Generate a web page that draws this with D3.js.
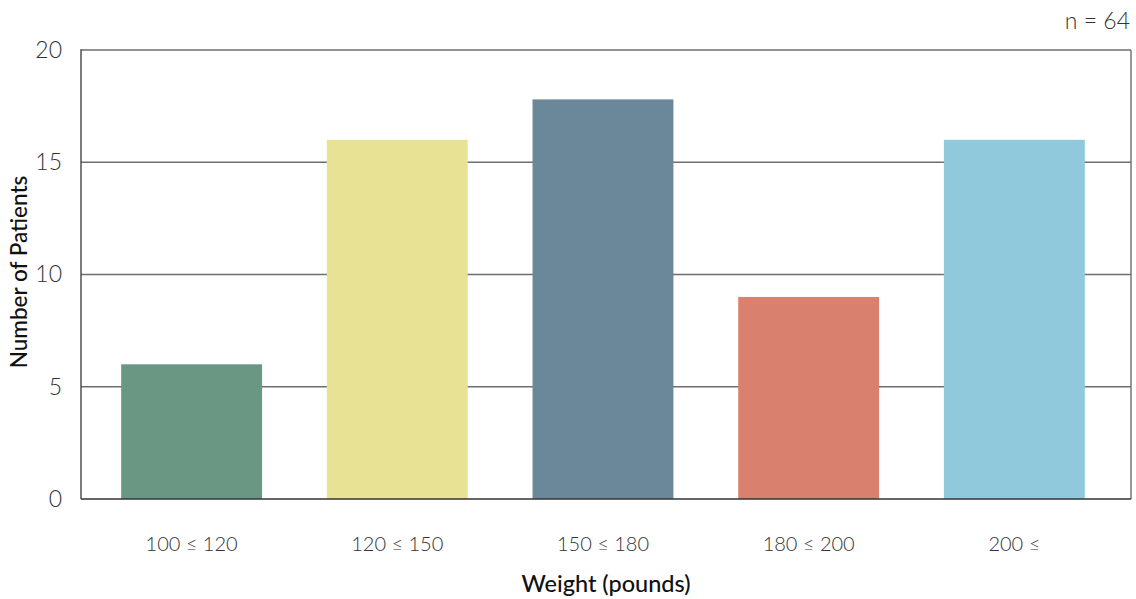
<!DOCTYPE html>
<html>
<head>
<meta charset="utf-8">
<script src="https://cdn.jsdelivr.net/npm/d3@7"></script>
<style>
  html, body { margin: 0; padding: 0; background: #fff; }
  svg { display: block; font-family: Lato, "Noto Sans", sans-serif; }
</style>
</head>
<body>
<svg id="chart" width="1136" height="599"></svg>
<script>
// Weight bins and patient counts
const categories = ["100 \u2264 120", "120 \u2264 150", "150 \u2264 180", "180 \u2264 200", "200 \u2264"];
const counts = [6, 16, 17.8, 9, 16];
const barColors = ["#6a9784", "#e8e295", "#6b879a", "#d9816e", "#8fc9db"];
const yTicks = [0, 5, 10, 15, 20];
const sampleLabel = "n = 64";

const svg = d3.select("#chart");
const margin = { left: 81, right: 1131, top: 50, bottom: 499 };

const x = d3.scaleBand()
  .domain(categories)
  .range([margin.left, margin.right])
  .paddingInner(0.315)
  .paddingOuter(0.21)
  .align(0.465);

const y = d3.scaleLinear()
  .domain([0, 20])
  .range([margin.bottom, margin.top]);

// horizontal gridlines
svg.append("g")
  .selectAll("line")
  .data(yTicks.filter(t => t > 0))
  .join("line")
  .attr("x1", margin.left).attr("x2", margin.right)
  .attr("y1", d => y(d)).attr("y2", d => y(d))
  .attr("stroke", "#6e6e6e")
  .attr("stroke-width", 1.4);

// right frame edge
svg.append("line")
  .attr("x1", margin.right).attr("x2", margin.right)
  .attr("y1", margin.top).attr("y2", margin.bottom)
  .attr("stroke", "#6e6e6e").attr("stroke-width", 1.4);

// bars
svg.append("g")
  .selectAll("rect")
  .data(counts)
  .join("rect")
  .attr("x", (d, i) => x(categories[i]))
  .attr("width", x.bandwidth())
  .attr("y", d => y(d))
  .attr("height", d => y(0) - y(d))
  .attr("fill", (d, i) => barColors[i]);

// left and bottom axis lines
svg.append("line")
  .attr("x1", margin.left).attr("x2", margin.left)
  .attr("y1", margin.top - 0.7).attr("y2", margin.bottom)
  .attr("stroke", "#444").attr("stroke-width", 1.4);
svg.append("line")
  .attr("x1", margin.left).attr("x2", margin.right)
  .attr("y1", margin.bottom).attr("y2", margin.bottom)
  .attr("stroke", "#333").attr("stroke-width", 1.4);

// y axis tick labels
const yAxis = d3.axisLeft(y).tickValues(yTicks).tickSize(0).tickPadding(19);
const gy = svg.append("g").attr("transform", `translate(${margin.left},0)`).call(yAxis);
gy.select(".domain").remove();
gy.selectAll("text")
  .attr("font-family", "Lato, sans-serif")
  .attr("font-size", 23).attr("font-weight", 300).attr("fill", "#333");

// x axis tick labels
const xAxis = d3.axisBottom(x).tickSize(0).tickPadding(38);
const gx = svg.append("g").attr("transform", `translate(0,${margin.bottom})`).call(xAxis);
gx.select(".domain").remove();
gx.selectAll("text")
  .attr("font-family", "Lato, sans-serif")
  .attr("font-size", 20).attr("font-weight", 300).attr("fill", "#333");

// axis titles
svg.append("text")
  .attr("x", 606)
  .attr("y", 592)
  .attr("text-anchor", "middle")
  .attr("font-size", 23.5).attr("font-weight", 500).attr("fill", "#111")
  .text("Weight (pounds)");

svg.append("text")
  .attr("transform", "translate(27,272) rotate(-90)")
  .attr("text-anchor", "middle")
  .attr("font-size", 22.5).attr("font-weight", 500).attr("fill", "#111")
  .text("Number of Patients");

// sample size note
svg.append("text")
  .attr("x", 1130).attr("y", 29)
  .attr("text-anchor", "end")
  .attr("font-size", 23).attr("font-weight", 300).attr("fill", "#333")
  .text(sampleLabel);
</script>
</body>
</html>
